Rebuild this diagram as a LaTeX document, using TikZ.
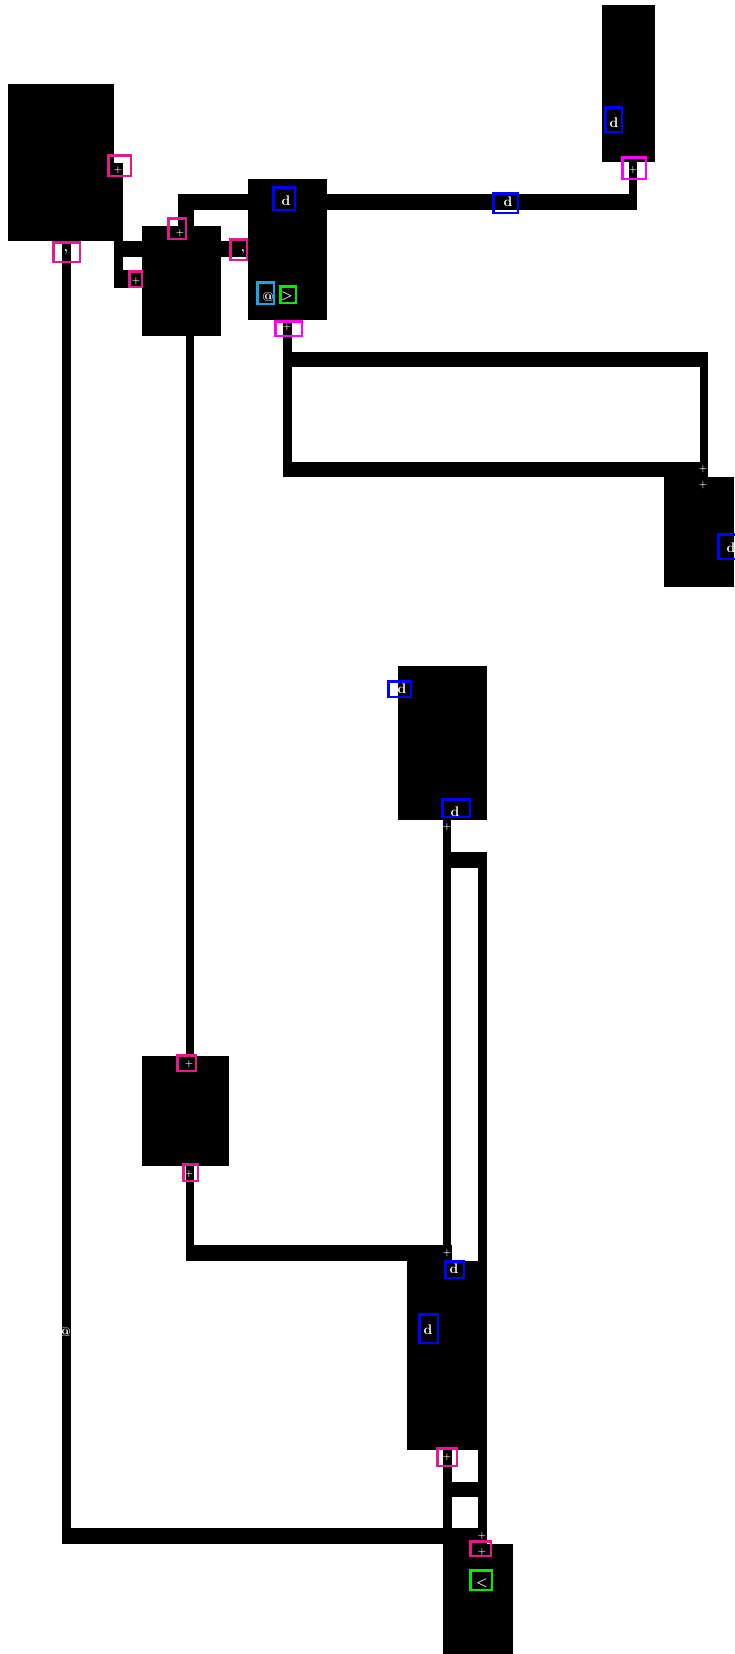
\documentclass[tikz,border=0pt]{standalone}
\begin{document}
\definecolor{portpink}{RGB}{230,25,140}
\definecolor{portmag}{RGB}{255,0,255}
\definecolor{tagblue}{RGB}{0,0,255}
\definecolor{tagcyan}{RGB}{20,170,225}
\definecolor{taggreen}{RGB}{0,235,0}
% tag box from its outer corners: name, colour, x1, y1, x2, y2
\newcommand\tagbox[6]{\node[tag=#2, minimum width={#5-#3-2.5}, minimum height={#6-#4-2.5}] (#1) at ({(#3+#5)/2},{(#4+#6)/2}) {};}
\begin{tikzpicture}[x=1pt,y=-1pt,
  box/.style={fill=black, draw=none, inner sep=0pt, outer sep=0pt, anchor=north west},
  wire/.style={draw=black, line width=8.5pt, line join=miter, line cap=butt},
  wwire/.style={wire, line width=16pt},
  tag/.style={draw=#1, line width=2.5pt, fill=none, inner sep=0pt, outer sep=0pt},
  lbl/.style={text=white, inner sep=0pt, outer sep=0pt},
  dl/.style={lbl, font=\fontsize{14}{14}\selectfont\bfseries},
  pl/.style={lbl, font=\fontsize{9}{9}\selectfont\bfseries},
  cl/.style={lbl, font=\fontsize{13}{13}\selectfont\bfseries}]
\fill[white] (0,0) rectangle (734,1654);
\useasboundingbox (0,0) rectangle (734,1654);

% ---- ports and bends
\coordinate (Ap)  at (118.5,163);
\coordinate (Ab)  at (66.5,241);
\coordinate (Bt)  at (185.5,226);
\coordinate (Bb)  at (190,336);
\coordinate (Cb)  at (287.5,320);
\coordinate (Dp)  at (633,162);
\coordinate (Et)  at (190,1056);
\coordinate (Eb)  at (190,1166);
\coordinate (Gb)  at (447,820);
\coordinate (Hb)  at (447.5,1450);
\coordinate (It)  at (482.5,1544);
\coordinate (Ft)  at (704,477);

% ---- connectors
% A to B (two runs into the left side of B)
\draw[wire, line width=9pt] (Ap) -- (118.5,288);
\draw[wwire] (114,249) -- (142,249);
\draw[wire, line width=18pt] (114,279) -- (142,279);
% B top to D
\draw[wwire] (Bt) -- (185.5,202) -- (637,202);
\draw[wire, line width=8pt] (Dp) -- (633,210);
% B to C
\draw[wwire] (221,249) -- (248,249);
% B bottom to E top
\draw[wire, line width=8pt] (Bb) -- (Et);
% C bottom loop to F
\draw[wire, line width=9pt] (Cb) -- (287.5,477);
\draw[wire, line width=15pt] (283,359.5) -- (708,359.5);
\draw[wire, line width=8pt] (704,352) -- (Ft);
\draw[wire, line width=15pt] (283,469.5) -- (704,469.5);
% A bottom to I
\draw[wire, line width=9pt] (Ab) -- (66.5,1544);
\draw[wwire] (62,1536) -- (487,1536);
% E bottom to H
\draw[wire, line width=8pt] (Eb) -- (190,1261);
\draw[wwire] (186,1253) -- (452,1253);
% G bottom to H and I
\draw[wire, line width=8pt] (Gb) -- (447,1261);
\draw[wwire] (443,860) -- (487,860);
\draw[wire, line width=9pt] (482.5,852) -- (It);
% H bottom to I
\draw[wire, line width=9pt] (Hb) -- (447.5,1544);
\draw[wire, line width=15pt] (443,1489.5) -- (487,1489.5);

% ---- blocks
\node[box, minimum width=106pt, minimum height=157pt] (A) at (8,84) {};
\node[box, minimum width=79pt,  minimum height=110pt] (B) at (142,226) {};
\node[box, minimum width=79pt,  minimum height=141pt] (C) at (248,179) {};
\node[box, minimum width=53pt,  minimum height=157pt] (D) at (602,5) {};
\node[box, minimum width=70pt,  minimum height=110pt] (F) at (664,477) {};
\node[box, minimum width=89pt,  minimum height=154pt] (G) at (398,666) {};
\node[box, minimum width=87pt,  minimum height=110pt] (E) at (142,1056) {};
\node[box, minimum width=80pt,  minimum height=189pt] (H) at (407,1261) {};
\node[box, minimum width=70pt,  minimum height=110pt] (I) at (443,1544) {};

% ---- tag frames
\tagbox{tA1}{portpink}{107}{154}{132}{177}
\tagbox{tA2}{portpink}{52}{241}{81}{263}
\tagbox{tB1}{portpink}{167}{217}{187}{240}
\tagbox{tB2}{portpink}{128}{270}{143}{288}
\tagbox{tB3}{portpink}{229}{238}{248}{261}
\tagbox{tC1}{tagblue}{272}{186}{296}{211}
\tagbox{tC2}{tagcyan}{256}{281}{275}{305}
\tagbox{tC3}{taggreen}{279}{285}{297}{304}
\tagbox{tC4}{portmag}{274}{320}{303}{337}
\tagbox{tW}{tagblue}{492}{192}{519}{214}
\tagbox{tD1}{tagblue}{604}{106}{623}{133}
\tagbox{tD2}{portmag}{621}{156}{647}{180}
\tagbox{tF}{tagblue}{717}{533}{742}{560}
\tagbox{tG1}{tagblue}{387}{680}{412}{698}
\tagbox{tG2}{tagblue}{441}{798}{471}{818}
\tagbox{tE1}{portpink}{176}{1054}{197}{1072}
\tagbox{tE2}{portpink}{182}{1163}{199}{1182}
\tagbox{tH1}{tagblue}{444}{1260}{465}{1279}
\tagbox{tH2}{tagblue}{418}{1313}{439}{1344}
\tagbox{tH3}{portpink}{436}{1447}{458}{1467}
\tagbox{tI1}{portpink}{469}{1540}{492}{1557}
\tagbox{tI2}{taggreen}{469}{1569}{493}{1591}

% ---- texts
\node[pl] (xA1) at (118,170) {+};
\node[cl] (xA2) at (66,252) {,};
\node[pl] (xB1) at (180,233) {+};
\node[pl] (xB2) at (136,281) {+};
\node[cl] (xB3) at (243,252) {,};
\node[dl] (xC1) at (286,201) {d};
\node[cl] (xC2) at (268,297) {@};
\node[cl] (xC3) at (287,296) {>};
\node[pl] (xC4) at (287,327) {+};
\node[dl] (xW)  at (508,202) {d};
\node[dl] (xD1) at (614,123) {d};
\node[pl] (xD2) at (633,170) {+};
\node[pl] (xF1) at (703,469) {+};
\node[pl] (xF2) at (703,485) {+};
\node[dl] (xF3) at (731,548) {d};
\node[dl] (xG1) at (402,689) {d};
\node[dl] (xG2) at (455,812) {d};
\node[pl] (xG3) at (447,827) {+};
\node[pl] (xE1) at (189,1064) {+};
\node[pl] (xE2) at (189,1174) {+};
\node[pl] (xH0) at (447,1253) {+};
\node[dl] (xH1) at (454,1269) {d};
\node[dl] (xH2) at (428,1330) {d};
\node[pl] (xH3) at (447,1457) {+};
\node[cl] (xL)  at (65,1332) {@};
\node[pl] (xI0) at (482,1536) {+};
\node[pl] (xI1) at (482,1552) {+};
\node[cl] (xI2) at (482,1583) {<};
\end{tikzpicture}
\end{document}
